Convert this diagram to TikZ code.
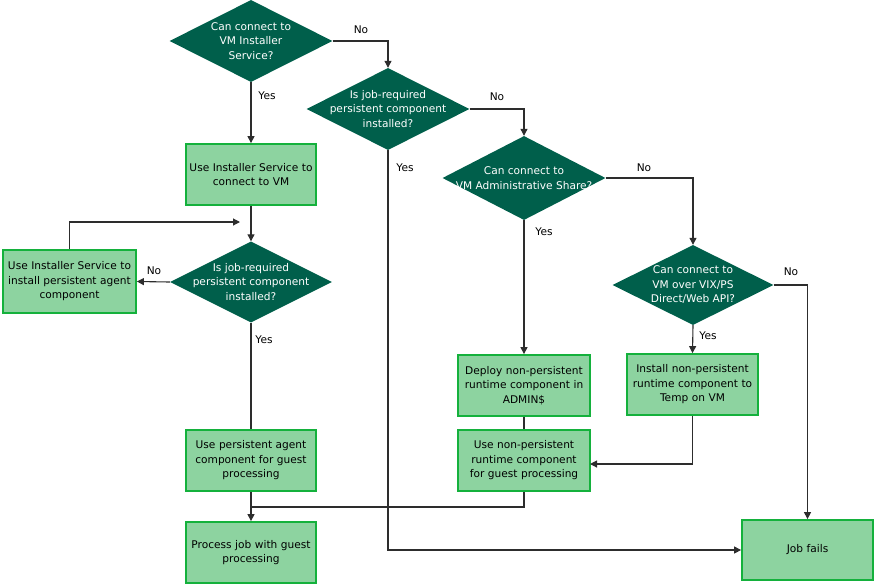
\documentclass[tikz,border=0pt]{standalone}
\usepackage{fontspec}
\setmainfont{DejaVu Sans}
\usetikzlibrary{shapes.geometric,arrows.meta,calc}
\definecolor{diafill}{RGB}{0,95,75}
\definecolor{boxfill}{RGB}{141,211,160}
\definecolor{boxline}{RGB}{20,177,60}
\definecolor{lnc}{RGB}{45,45,45}
\tikzset{
  dia/.style={diamond,fill=diafill,draw=none,inner sep=0pt,minimum width=163pt,minimum height=82pt},
  diatext/.style={text=white,align=center,inner sep=0pt,font=\fontsize{10.6}{14.5}\selectfont},
  fbox/.style={rectangle,fill=boxfill,draw=boxline,line width=1.8pt,minimum width=130pt,minimum height=61pt,align=center,inner sep=0pt,text width=128pt,font=\fontsize{10.6}{14.5}\selectfont},
  lbl/.style={inner sep=0pt,font=\fontsize{10.6}{12}\selectfont},
  conn/.style={draw=lnc,line width=1.1pt},
  arr/.style={conn,-{Triangle[length=7pt,width=7pt]}}
}
\begin{document}
\begin{tikzpicture}[x=1pt,y=-1pt]
\useasboundingbox (0,0) rectangle (874,584);
% diamonds
\node[dia] (d1) at (251,41) {};
\node[diatext] (t1) at (d1) {Can connect to\\VM Installer\\Service?};
\node[dia] (d2) at (388,109) {};
\node[diatext] (t2) at (d2) {Is job-required\\persistent component\\installed?};
\node[dia,minimum height=84pt] (d3) at (524,178) {};
\node[diatext] (t3) at (d3) {Can connect to\\VM Administrative Share?};
\node[dia,minimum width=161pt,minimum height=80pt] (d4) at (693,285) {};
\node[diatext] (t4) at (d4) {Can connect to\\VM over VIX/PS\\Direct/Web API?};
\node[dia,minimum width=162pt,minimum height=81pt] (d5) at (251,282) {};
\node[diatext] (t5) at (d5) {Is job-required\\persistent component\\installed?};
% boxes
\node[fbox] (b1) at (251,174.5) {Use Installer Service to\\connect to VM};
\node[fbox,minimum width=133pt,minimum height=63pt,text width=131pt] (b2) at (69.5,281.5) {Use Installer Service to\\install persistent agent\\component};
\node[fbox] (b3) at (251,460.5) {Use persistent agent\\component for guest\\processing};
\node[fbox] (b4) at (251,552.5) {Process job with guest\\processing};
\node[fbox,minimum width=132pt] (b5) at (524,385.5) {Deploy non-persistent\\runtime component in\\ADMIN\$};
\node[fbox,minimum width=132pt] (b6) at (524,460.5) {Use non-persistent\\runtime component\\for guest processing};
\node[fbox,minimum width=131pt] (b7) at (692.5,384.5) {Install non-persistent\\runtime component to\\Temp on VM};
\node[fbox,minimum width=131pt,minimum height=60pt] (b8) at (807.5,550) {Job fails};
% helper coordinates
\coordinate (loopend) at (240,222);
\coordinate (mj) at (251,507);
\coordinate (b6in) at (590,464);
% connectors
\draw[arr] (d1.east) -| (d2.north);
\draw[arr] (d1.south) -- (b1.north);
\draw[arr] (d2.east) -| (d3.north);
\draw[arr] (d3.east) -| (d4.north);
\draw[arr] (d4.east) -| (b8.north);
\draw[arr] (d2.south) |- (b8.west);
\draw[arr] (b1.south) -- (d5.north);
\draw[arr] (d5.west) -- (b2.east);
\draw[arr] (b2.north) |- (loopend);
\draw[conn] (d5.south) -- (b3.north);
\draw[arr] (b3.south) -- (b4.north);
\draw[conn] (b6.south) |- (mj);
\draw[arr] (d3.south) -- (b5.north);
\draw[conn] (b5.south) -- (b6.north);
\draw[arr] (d4.south) -- (b7.north);
\draw[arr] (b7.south) |- (b6in);
% labels
\node[lbl] (l1) at (361,30) {No};
\node[lbl] (l2) at (267,96) {Yes};
\node[lbl] (l3) at (497,97) {No};
\node[lbl] (l4) at (405,168) {Yes};
\node[lbl] (l5) at (644,168) {No};
\node[lbl] (l6) at (544,232) {Yes};
\node[lbl] (l7) at (791,272) {No};
\node[lbl] (l8) at (708,336) {Yes};
\node[lbl] (l9) at (154,271) {No};
\node[lbl] (l10) at (264,340) {Yes};
\end{tikzpicture}
\end{document}
